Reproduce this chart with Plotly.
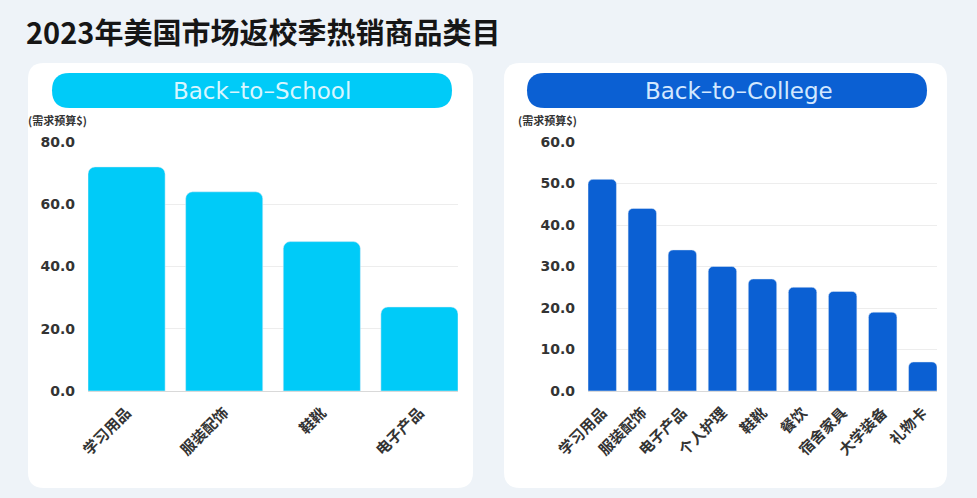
import plotly.graph_objects as go

W, H = 977, 498

title_text = "2023年美国市场返校季热销商品类目"
unit_label = "(需求预算$)"

school_title = "Back–to–School"
school_cats = ["学习用品", "服装配饰", "鞋靴", "电子产品"]
school_vals = [72, 64, 48, 27]
school_ticks = [0, 20, 40, 60, 80]

college_title = "Back–to–College"
college_cats = ["学习用品", "服装配饰", "电子产品", "个人护理", "鞋靴", "餐饮", "宿舍家具", "大学装备", "礼物卡"]
college_vals = [51, 44, 34, 30, 27, 25, 24, 19, 7]
college_ticks = [0, 10, 20, 30, 40, 50, 60]

CYAN = "#00cbf8"
BLUE = "#0b60d3"
BG = "#eef3f8"
FONT = "Noto Sans CJK SC"


def px(x):
    return x / W


def py(y):
    return 1 - y / H


def rrect(x0, y0, x1, y1, r):
    # pixel coords (y down) -> paper path with rounded corners
    rx, ry = r / W, r / H
    X0, X1 = px(x0), px(x1)
    Yt, Yb = py(y0), py(y1)
    return (f"M {X0+rx},{Yt} L {X1-rx},{Yt} Q {X1},{Yt} {X1},{Yt-ry} "
            f"L {X1},{Yb+ry} Q {X1},{Yb} {X1-rx},{Yb} L {X0+rx},{Yb} "
            f"Q {X0},{Yb} {X0},{Yb+ry} L {X0},{Yt-ry} Q {X0},{Yt} {X0+rx},{Yt} Z")


fig = go.Figure()
fig.add_trace(go.Bar(x=school_cats, y=school_vals, marker=dict(color=CYAN, cornerradius=7),
                     width=0.79, xaxis="x", yaxis="y", showlegend=False))
fig.add_trace(go.Bar(x=college_cats, y=college_vals, marker=dict(color=BLUE, cornerradius=5),
                     width=0.71, xaxis="x2", yaxis="y2", showlegend=False))

xtickfont = dict(family=FONT, size=15, color="#333333", weight="bold")
ytickfont = dict(family="DejaVu Sans", size=14, color="#333333", weight="bold")
ydom = [107 / H, 356 / H]
yaxis_common = dict(showgrid=True, gridcolor="#ededed", gridwidth=1, zeroline=True,
                    zerolinecolor="#d9d9d9", zerolinewidth=1, tickformat=".1f",
                    tickfont=ytickfont, ticks="", showline=False, ticklabelstandoff=12,
                    automargin=False)
xaxis_common = dict(type="category", tickangle=-45, tickfont=xtickfont, showgrid=False,
                    ticks="", ticklabelstandoff=9, automargin=False)

fig.update_layout(
    width=W, height=H,
    margin=dict(l=0, r=0, t=0, b=0, pad=0, autoexpand=False),
    paper_bgcolor=BG, plot_bgcolor="rgba(0,0,0,0)",
    font=dict(family=FONT),
    xaxis=dict(domain=[px(88), px(458)], anchor="y", range=[-0.395, 3.395], **xaxis_common),
    yaxis=dict(domain=ydom, anchor="x", range=[0, 80], tickvals=school_ticks, **yaxis_common),
    xaxis2=dict(domain=[px(588), px(937)], anchor="y2", range=[-0.355, 8.355], **xaxis_common),
    yaxis2=dict(domain=ydom, anchor="x2", range=[0, 60], tickvals=college_ticks, **yaxis_common),
)

shapes = [
    dict(type="path", path=rrect(28, 63, 473, 488, 16), xref="paper", yref="paper",
         fillcolor="white", line=dict(width=0), layer="below"),
    dict(type="path", path=rrect(504, 63, 947, 488, 16), xref="paper", yref="paper",
         fillcolor="white", line=dict(width=0), layer="below"),
    dict(type="path", path=rrect(52, 73, 452, 108, 17.5), xref="paper", yref="paper",
         fillcolor=CYAN, line=dict(width=0), layer="below"),
    dict(type="path", path=rrect(527, 73, 927, 108, 17.5), xref="paper", yref="paper",
         fillcolor=BLUE, line=dict(width=0), layer="below"),
]
fig.update_layout(shapes=shapes)

annotations = [
    dict(text=title_text, x=px(24), y=py(31), xref="paper", yref="paper",
         xanchor="left", yanchor="middle", showarrow=False,
         font=dict(family=FONT, size=29, color="#161616", weight="bold")),
    dict(text=school_title, x=px(262), y=py(91), xref="paper", yref="paper",
         xanchor="center", yanchor="middle", showarrow=False,
         font=dict(family="DejaVu Sans", size=23, color="#d8f6ff")),
    dict(text=college_title, x=px(739), y=py(91), xref="paper", yref="paper",
         xanchor="center", yanchor="middle", showarrow=False,
         font=dict(family="DejaVu Sans", size=23, color="#d3e8ff")),
    dict(text=unit_label, x=px(26), y=py(120), xref="paper", yref="paper",
         xanchor="left", yanchor="middle", showarrow=False,
         font=dict(family=FONT, size=11, color="#333333", weight="bold")),
    dict(text=unit_label, x=px(516), y=py(120), xref="paper", yref="paper",
         xanchor="left", yanchor="middle", showarrow=False,
         font=dict(family=FONT, size=11, color="#333333", weight="bold")),
]
fig.update_layout(annotations=annotations)

fig.write_html("out.html", config={"displayModeBar": False},
               post_script="document.body.style.margin='0';document.body.style.background='%s';" % BG)
